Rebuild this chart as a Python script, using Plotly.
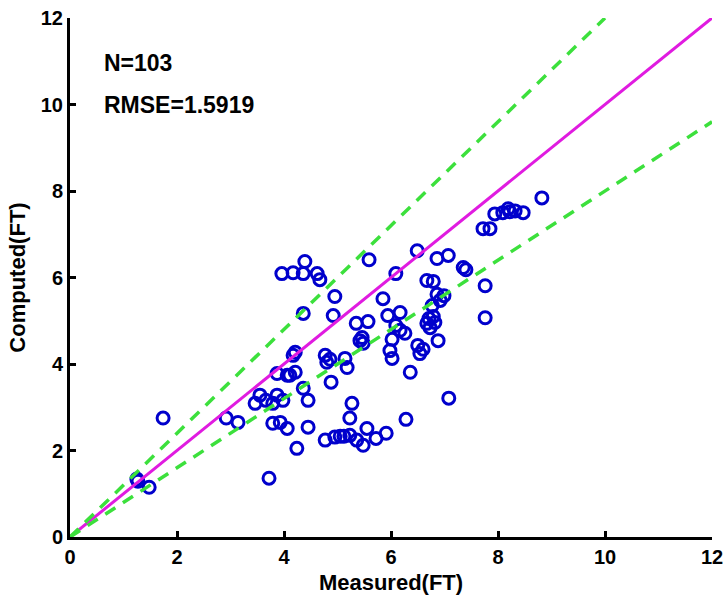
import plotly.graph_objects as go

measured = [1.25, 1.48, 1.74, 2.92, 3.14, 3.72, 3.46, 3.55, 3.79, 3.87,
            3.79, 3.93, 4.06, 3.87, 4.06, 4.21, 4.17, 4.21, 3.98, 4.36,
            4.45, 4.45, 4.24, 3.96, 4.17, 4.39, 4.36, 4.62, 4.67, 4.36,
            4.95, 4.92, 4.77, 4.80, 5.14, 5.18, 4.88, 4.77, 4.95, 5.05,
            5.23, 5.36, 5.48, 5.55, 5.72, 5.91, 5.23, 5.27, 5.59, 6.09,
            6.49, 6.86, 7.07, 6.67, 6.79, 6.86, 6.99, 6.77, 5.85, 5.94,
            6.17, 6.09, 6.26, 6.02, 5.35, 5.57, 5.42, 5.48, 6.67, 6.82,
            6.73, 6.88, 5.98, 6.50, 6.54, 6.02, 6.36, 6.28, 7.08, 7.35,
            7.40, 7.76, 7.76, 7.72, 7.85, 7.94, 8.09, 8.19, 8.32, 8.47,
            8.82, 6.71, 6.79, 3.66, 5.46, 6.17, 6.60, 8.22, 4.11, 5.12,
            6.92, 4.86, 1.27]
computed = [1.34, 1.15, 2.75, 2.75, 2.65, 1.36, 3.09, 3.28, 3.09, 3.28,
            2.63, 2.65, 2.51, 3.78, 3.74, 3.81, 4.20, 4.27, 3.16, 3.44,
            3.16, 2.54, 2.05, 6.09, 6.11, 6.37, 6.09, 6.09, 5.95, 5.17,
            5.56, 5.12, 4.20, 4.04, 4.13, 3.92, 3.58, 2.24, 2.31, 2.33,
            2.35, 2.24, 2.12, 2.51, 2.28, 2.40, 2.75, 3.09, 6.41, 6.09,
            6.62, 6.44, 6.51, 5.93, 5.91, 5.61, 5.58, 5.35, 5.51, 5.12,
            5.19, 4.89, 4.71, 4.57, 4.94, 4.98, 4.54, 4.48, 4.94, 4.96,
            4.84, 4.54, 4.31, 4.43, 4.24, 4.13, 3.81, 2.72, 3.21, 6.23,
            6.18, 5.81, 5.07, 7.13, 7.13, 7.47, 7.50, 7.59, 7.54, 7.50,
            7.84, 5.05, 5.10, 3.16, 4.61, 4.78, 4.34, 7.52, 3.74, 2.33,
            5.47, 4.11, 1.29]

ref_x = [0, 12]
ref_y = [0, 12]
upper_x = [0, 10]
upper_y = [0, 12]
lower_x = [0, 12]
lower_y = [0, 9.6]
tick_vals = [0, 2, 4, 6, 8, 10, 12]
n_text = "N=103"
rmse_text = "RMSE=1.5919"

FONT = "Liberation Sans, Arial, sans-serif"

fig = go.Figure()
fig.add_trace(go.Scatter(x=measured, y=computed, mode="markers",
                         marker=dict(symbol="circle-open", size=12, color="#0000CC",
                                     line=dict(width=3, color="#0000CC")),
                         showlegend=False, cliponaxis=False))
fig.add_trace(go.Scatter(x=ref_x, y=ref_y, mode="lines",
                         line=dict(color="#E01BE0", width=3), showlegend=False))
fig.add_trace(go.Scatter(x=upper_x, y=upper_y, mode="lines",
                         line=dict(color="#3CE03C", width=3.5, dash="12px,9px"), showlegend=False))
fig.add_trace(go.Scatter(x=lower_x, y=lower_y, mode="lines",
                         line=dict(color="#3CE03C", width=3.5, dash="12px,9px"), showlegend=False))

fig.add_annotation(x=0.6, y=10.95, text=n_text, showarrow=False, xanchor="left", yanchor="middle",
                   font=dict(family=FONT, size=23, color="black", weight="bold"))
fig.add_annotation(x=0.6, y=10.0, text=rmse_text, showarrow=False, xanchor="left", yanchor="middle",
                   font=dict(family=FONT, size=23, color="black", weight="bold"))

axis_common = dict(range=[0, 12], tickvals=tick_vals, ticks="inside", ticklen=6, tickwidth=3,
                   tickcolor="black", showline=True, linecolor="black", linewidth=3,
                   showgrid=False, zeroline=False, mirror=False, automargin=False,
                   ticklabeloverflow="allow",
                   tickfont=dict(family=FONT, size=20, color="black", weight="bold"))

fig.update_xaxes(**axis_common,
                 title=dict(text="Measured(FT)", standoff=8,
                            font=dict(family=FONT, size=22, color="black", weight="bold")))
fig.update_yaxes(**axis_common,
                 title=dict(text="Computed(FT)", standoff=10,
                            font=dict(family=FONT, size=22, color="black", weight="bold")))

fig.update_layout(width=727, height=605, paper_bgcolor="white", plot_bgcolor="white",
                  margin=dict(l=70, r=15, t=18, b=68), showlegend=False)

fig.write_html("out.html", config={"displayModeBar": False},
               post_script="document.body.style.margin='0';document.body.style.overflow='hidden';")
